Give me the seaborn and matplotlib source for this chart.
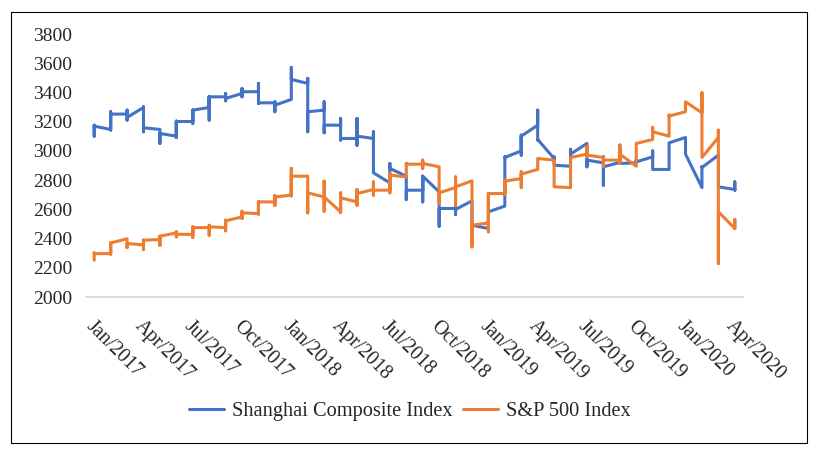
import numpy as np
import pandas as pd
import seaborn as sns
import matplotlib.pyplot as plt
from matplotlib.patches import Rectangle
from matplotlib.transforms import ScaledTranslation

# monthly values, Jan 2017 .. Apr 2020 (40 months)
tick_labels = ['Jan/2017', 'Apr/2017', 'Jul/2017', 'Oct/2017', 'Jan/2018', 'Apr/2018', 'Jul/2018',
               'Oct/2018', 'Jan/2019', 'Apr/2019', 'Jul/2019', 'Oct/2019', 'Jan/2020', 'Apr/2020']

sh_open = [3170, 3147, 3252, 3297, 3147, 3101, 3201, 3297, 3370, 3393, 3405, 3329, 3352, 3462, 3279, 3176,
           3085, 3085, 2781, 2827, 2731, 2720, 2606, 2658, 2469, 2622, 3000, 3176, 2948, 2895, 3051, 2918,
           2921, 2918, 2959, 2873, 3092, 2749, 2971, 2736]
sh_high = [3176, 3268, 3279, 3302, 3147, 3204, 3279, 3370, 3393, 3427, 3462, 3336, 3571, 3496, 3336, 3222,
           3222, 3131, 2914, 2827, 2827, 2720, 2617, 2658, 2583, 2959, 3108, 3279, 2959, 3010, 3051, 2959,
           3039, 2937, 3000, 3055, 3092, 2891, 2971, 2788]
sh_low = [3101, 3142, 3211, 3131, 3051, 3092, 3188, 3211, 3343, 3370, 3325, 3268, 3352, 3131, 3124, 3074,
          3039, 2850, 2781, 2667, 2651, 2485, 2564, 2491, 2469, 2622, 2971, 3074, 2902, 2895, 2891, 2765,
          2914, 2918, 2873, 2873, 2978, 2749, 2754, 2731]
sh_close = [3169, 3252, 3229, 3158, 3119, 3201, 3279, 3370, 3359, 3405, 3329, 3313, 3489, 3268, 3176, 3085,
            3101, 2850, 2880, 2731, 2827, 2606, 2599, 2491, 2583, 2955, 3101, 3078, 2902, 2978, 2937, 2891,
            2914, 2925, 2873, 3055, 2978, 2886, 2754, 2736]

sp_open = [2252, 2297, 2398, 2357, 2393, 2439, 2428, 2475, 2475, 2548, 2571, 2651, 2697, 2827, 2685, 2583,
           2651, 2736, 2731, 2822, 2909, 2891, 2749, 2795, 2507, 2708, 2811, 2873, 2937, 2749, 2978, 2955,
           2937, 2895, 3078, 3101, 3268, 3261, 3092, 2469]
sp_high = [2302, 2370, 2398, 2389, 2416, 2446, 2480, 2491, 2526, 2587, 2651, 2695, 2880, 2827, 2793, 2713,
           2736, 2788, 2845, 2914, 2937, 2891, 2822, 2795, 2708, 2800, 2857, 2948, 2937, 2955, 3032, 2955,
           3039, 3051, 3160, 3245, 3336, 3398, 3142, 2530]
sp_low = [2252, 2293, 2338, 2325, 2354, 2412, 2407, 2423, 2453, 2537, 2567, 2626, 2692, 2576, 2587, 2578,
          2628, 2697, 2713, 2822, 2880, 2640, 2628, 2343, 2446, 2704, 2749, 2873, 2754, 2749, 2964, 2895,
          2914, 2895, 3078, 3101, 3268, 2955, 2229, 2469]
sp_close = [2297, 2370, 2366, 2389, 2416, 2430, 2475, 2480, 2521, 2576, 2651, 2685, 2827, 2713, 2685, 2679,
            2708, 2731, 2834, 2909, 2914, 2713, 2754, 2491, 2708, 2793, 2841, 2948, 2754, 2955, 2971, 2937,
            2978, 3051, 3131, 3238, 3336, 2955, 2583, 2469]

# long table: each month is visited open -> high -> low -> close at the same x
rows = []
for name, o, h, l, c in [('Shanghai Composite Index', sh_open, sh_high, sh_low, sh_close),
                         ('S&P 500 Index', sp_open, sp_high, sp_low, sp_close)]:
    for i in range(len(o)):
        for v in (o[i], h[i], l[i], c[i]):
            rows.append({'series': name, 'month': i, 'value': v})
df = pd.DataFrame(rows)

sns.set_style('white')
plt.rcParams['font.family'] = ['Liberation Serif', 'DejaVu Serif']

fig = plt.figure(figsize=(8.2, 4.55), dpi=100)
ax = fig.add_axes([86 / 820, 1 - 297 / 455, (743 - 86) / 820, (297 - 34) / 455])

sns.lineplot(data=df, x='month', y='value', hue='series', sort=False, estimator=None,
             palette=['#4472C4', '#ED7D31'], linewidth=2.2, ax=ax)

ax.set_xlim(-0.5, 39.5)
ax.set_ylim(2000, 3800)
ax.set_yticks(range(2000, 3801, 200))
ax.set_xticks(np.arange(-0.5, 39, 3))
ax.set_xticklabels(tick_labels, rotation=-45, ha='left', va='top', rotation_mode='anchor')
ax.set_xlabel('')
ax.set_ylabel('')
ax.tick_params(axis='x', length=5, width=1.3, color='#D9D9D9', pad=7, labelsize=14.3)
ax.tick_params(axis='y', length=0, pad=10, labelsize=14)
for lab in ax.get_xticklabels():
    lab.set_transform(lab.get_transform() + ScaledTranslation(0.09, -0.03, fig.dpi_scale_trans))
for s in ['left', 'top', 'right']:
    ax.spines[s].set_visible(False)
ax.spines['bottom'].set_color('#D9D9D9')
ax.spines['bottom'].set_linewidth(1.3)

handles, labels = ax.get_legend_handles_labels()
ax.get_legend().remove()
fig.legend(handles, labels, loc='center', bbox_to_anchor=(0.5, 1 - 411 / 455), ncol=2, frameon=False,
           fontsize=14.7, handlelength=1.7, handletextpad=0.4, columnspacing=0.5)

# chart border
fig.patches.append(Rectangle((11 / 820, 1 - 443 / 455), (807 - 11) / 820, (443 - 12) / 455,
                             transform=fig.transFigure, fill=False, edgecolor='black', linewidth=0.8))

fig.savefig('out.png', dpi=100)
